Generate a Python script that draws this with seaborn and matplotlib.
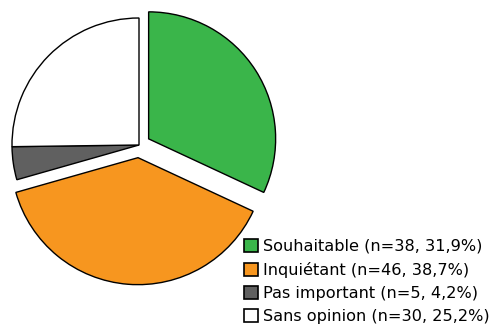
import matplotlib
matplotlib.use("Agg")
import matplotlib.pyplot as plt
import seaborn as sns
from matplotlib.patches import Patch

categories = ["Souhaitable", "Inquiétant", "Pas important", "Sans opinion"]
counts = [38, 46, 5, 30]
colors = ["#3AB54A", "#F7961F", "#606060", "#FFFFFF"]
explode = [0.09, 0.1, 0.0, 0.0]

sns.set_theme(style="white")
plt.rcParams['font.family'] = ['DejaVu Sans']

W, H = 497, 325
fig = plt.figure(figsize=(W / 100, H / 100), dpi=100)
R = 127.0
cx, cy = 139.0, 325 - 145.0
half = 1.3 * R
ax = fig.add_axes([(cx - half) / W, (cy - half) / H, 2 * half / W, 2 * half / H])
ax.pie(counts, colors=colors, explode=explode, startangle=90, counterclock=False,
       wedgeprops=dict(edgecolor="black", linewidth=1.0), radius=1.0)
ax.set_xlim(-1.3, 1.3)
ax.set_ylim(-1.3, 1.3)
ax.set_aspect("equal")
ax.axis("off")

total = sum(counts)
labels = [f"{c} (n={n}, {n / total * 100:.1f}%)".replace(".", ",") for c, n in zip(categories, counts)]
handles = [Patch(facecolor=col, edgecolor="black", linewidth=1.2) for col in colors]
fig.legend(handles, labels, loc="lower left", bbox_to_anchor=(244 / W, 1 / H),
           frameon=False, borderpad=0, handlelength=0.85, handleheight=0.85,
           handletextpad=0.35, labelspacing=0.5, fontsize=11.6, borderaxespad=0)
for t in fig.legends[0].get_texts():
    t.set_color("black")

fig.savefig("out.png", dpi=100)
